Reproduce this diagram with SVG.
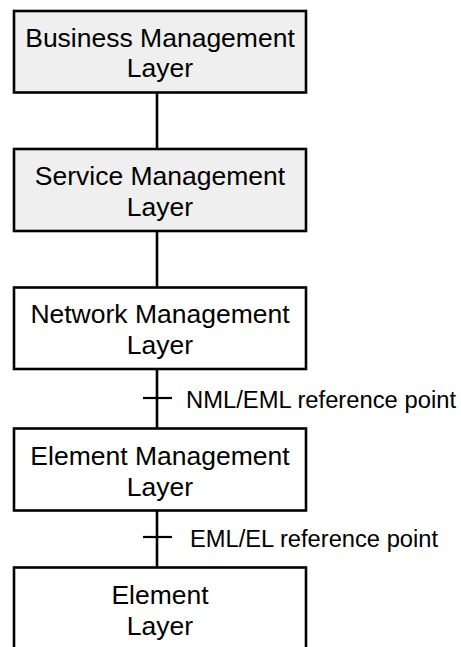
<svg xmlns="http://www.w3.org/2000/svg" width="461" height="647" viewBox="0 0 461 647">
  <style>
    .box { stroke: #000; stroke-width: 2.6; }
    .shaded { fill: #efefef; }
    .plain { fill: #fff; }
    .label { font-family: "Liberation Sans", Arial, sans-serif; font-size: 26.5px; fill: #000; text-anchor: middle; }
    .ref { font-family: "Liberation Sans", Arial, sans-serif; font-size: 23px; fill: #000; }
    .wire { stroke: #000; stroke-width: 2.6; fill: none; }
    .tick { stroke: #000; stroke-width: 2.2; fill: none; }
  </style>
  <rect width="461" height="647" fill="#fff"/>

  <!-- vertical links between the layers, with reference-point ticks -->
  <g id="connectors">
    <line class="wire" x1="157" y1="92" x2="157" y2="149"/>
    <line class="wire" x1="157" y1="231" x2="157" y2="287"/>
    <line class="wire" x1="157" y1="369" x2="157" y2="428"/>
    <line class="wire" x1="157" y1="510" x2="157" y2="567"/>
    <line class="tick" x1="143" y1="398" x2="172" y2="398"/>
    <line class="tick" x1="143" y1="537" x2="172" y2="537"/>
    <text class="ref" x="186" y="408" textLength="270" lengthAdjust="spacingAndGlyphs">NML/EML reference point</text>
    <text class="ref" x="190" y="547" textLength="248" lengthAdjust="spacingAndGlyphs">EML/EL reference point</text>
  </g>

  <g id="business-management-layer">
    <rect class="box shaded" x="14" y="11" width="292" height="81.5"/>
    <text class="label" x="160" y="47">Business Management</text>
    <text class="label" x="160" y="77">Layer</text>
  </g>

  <g id="service-management-layer">
    <rect class="box shaded" x="14" y="149" width="292" height="82"/>
    <text class="label" x="160" y="185">Service Management</text>
    <text class="label" x="160" y="216">Layer</text>
  </g>

  <g id="network-management-layer">
    <rect class="box plain" x="14" y="287.5" width="292" height="81.5"/>
    <text class="label" x="160" y="323">Network Management</text>
    <text class="label" x="160" y="354">Layer</text>
  </g>

  <g id="element-management-layer">
    <rect class="box plain" x="14" y="428.5" width="292" height="82"/>
    <text class="label" x="160" y="465">Element Management</text>
    <text class="label" x="160" y="496">Layer</text>
  </g>

  <g id="element-layer">
    <rect class="box plain" x="14" y="567.5" width="292" height="82"/>
    <text class="label" x="160" y="604">Element</text>
    <text class="label" x="160" y="635">Layer</text>
  </g>
</svg>
